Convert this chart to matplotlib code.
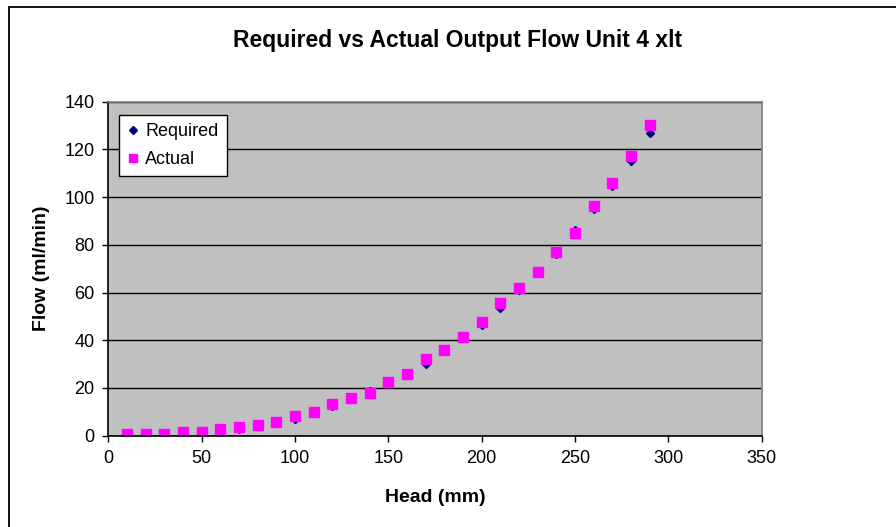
import matplotlib.pyplot as plt
from matplotlib.patches import Rectangle

head = [10, 20, 30, 40, 50, 60, 70, 80, 90, 100, 110, 120, 130, 140, 150,
        160, 170, 180, 190, 200, 210, 220, 230, 240, 250, 260, 270, 280, 290]
required = [0, 0, 0.2, 0.3, 1.0, 1.3, 3.0, 4.0, 5.3, 6.8, 9.8, 12.5, 15.4, 18.6, 22.0,
            26.0, 30.0, 35.4, 41.0, 46.6, 53.6, 60.9, 68.3, 76.3, 86.2, 95.0, 104.7, 115.1, 126.9]
actual = [0.7, 0.7, 0.7, 1.4, 1.4, 2.8, 3.5, 4.5, 5.6, 8.1, 10.0, 13.1, 15.6, 18.1, 22.6,
          26.0, 32.1, 35.8, 41.3, 47.7, 55.7, 61.9, 68.8, 76.8, 84.9, 96.1, 106.0, 117.2, 130.4]

x_ticks = [0, 50, 100, 150, 200, 250, 300, 350]
y_ticks = [0, 20, 40, 60, 80, 100, 120, 140]

plt.rcParams['font.family'] = ['Liberation Sans', 'DejaVu Sans']

fig = plt.figure(figsize=(8.96, 5.27), dpi=100)
ax = fig.add_axes([108.3 / 896, 1 - 435.7 / 527, 653.4 / 896, 334 / 527])

# chart frame (runs off the right and bottom edge)
fig.patches.append(Rectangle((9 / 896, -0.2), 1.5, 1.2 - 7 / 527,
                             transform=fig.transFigure, fill=False,
                             edgecolor='black', linewidth=1.3))

ax.set_facecolor('#c0c0c0')
ax.plot(head, required, linestyle='none', marker='D', markersize=4.5,
        color='#000080', label='Required', zorder=3)
ax.plot(head, actual, linestyle='none', marker='s', markersize=6.8,
        color='#ff00ff', label='Actual', zorder=4)

ax.set_xlim(0, 350)
ax.set_ylim(0, 140)
ax.set_xticks(x_ticks)
ax.set_yticks(y_ticks)
ax.tick_params(direction='out', length=4, width=1, labelsize=13, pad=6)
ax.grid(True, axis='y', color='black', linewidth=1)
ax.set_axisbelow(True)

ax.spines['left'].set_color('black')
ax.spines['bottom'].set_color('black')
ax.spines['top'].set_color('#808080')
ax.spines['right'].set_color('#808080')
for s in ax.spines.values():
    s.set_linewidth(1.2)
    s.set_zorder(5)

ax.set_xlabel('Head (mm)', fontsize=14, fontweight='bold', va='center')
ax.set_ylabel('Flow (ml/min)', fontsize=14, fontweight='bold', va='center')
ax.xaxis.set_label_coords((435 - 108.3) / 653.4, -(497 - 435.7) / 334)
ax.yaxis.set_label_coords(-(108.3 - 42) / 653.4, 0.5)

fig.text(458 / 896, 1 - 40 / 527, 'Required vs Actual Output Flow Unit 4 xlt',
         ha='center', va='center', fontsize=16.5, fontweight='bold')

leg = ax.legend(loc='upper left', bbox_to_anchor=(0.0164, 0.960), borderaxespad=0,
                fontsize=13, frameon=True, fancybox=False, framealpha=1,
                edgecolor='black', handlelength=0.7, handletextpad=0.3,
                borderpad=0.45, labelspacing=0.6, markerscale=0.9)
leg.get_frame().set_linewidth(1)

fig.savefig('out.png', dpi=100)
